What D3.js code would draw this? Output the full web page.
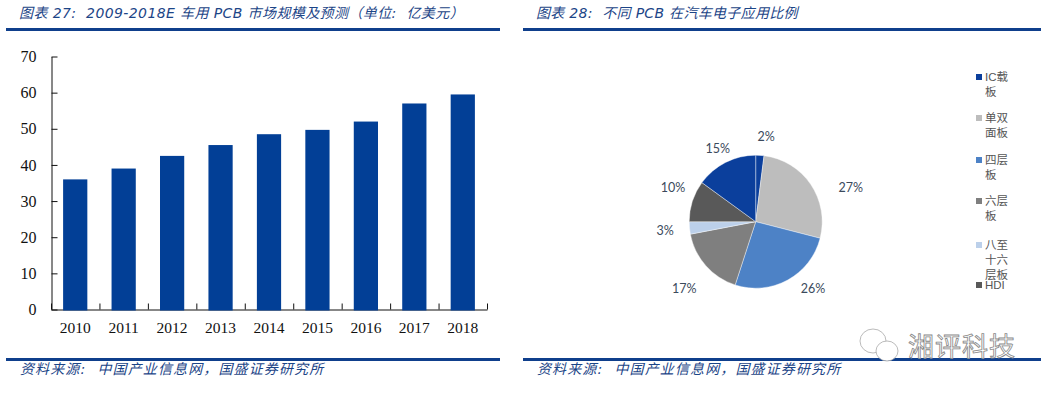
<!DOCTYPE html>
<html>
<head>
<meta charset="utf-8">
<script src="https://cdn.jsdelivr.net/npm/d3@7"></script>
<style>
body { margin: 0; background: #fff; }
svg { display: block; }
.head { font-family: "DejaVu Sans", "Noto Sans CJK SC"; font-style: italic; fill: #1c4587; white-space: pre; }
.tick text { font-family: "Liberation Serif", "Noto Sans CJK SC"; fill: #111; }
</style>
</head>
<body>
<script>
const years = ["2010","2011","2012","2013","2014","2015","2016","2017","2018"];
const market = [36, 39, 42.5, 45.5, 48.5, 49.7, 52, 57, 59.5];
const yTicks = [0, 10, 20, 30, 40, 50, 60, 70];

const pcbTypes = ["IC载板", "单双面板", "四层板", "六层板", "八至十六层板", "HDI"];
const pcbShare = [2, 27, 26, 17, 3, 10, 15];
const pieOrder = ["IC载板", "单双面板", "四层板", "六层板", "八至十六层板", "HDI", "IC载板"];
const legendLines = [["IC载", "板"], ["单双", "面板"], ["四层", "板"], ["六层", "板"], ["八至", "十六", "层板"], ["HDI"]];
const pcbColors = ["#0b3f9c", "#bdbdbd", "#4d82c6", "#7f7f7f", "#bcd0ea", "#595959"];

const title1 = "图表 27:  2009-2018E 车用 PCB 市场规模及预测（单位:  亿美元）";
const title2 = "图表 28:  不同 PCB 在汽车电子应用比例";
const source = "资料来源:  中国产业信息网，国盛证券研究所";
const blue = "#0f3f8c";

const svg = d3.select("body").append("svg").attr("width", 1050).attr("height", 393);

// headers, rules and sources of the two panels
svg.append("text").attr("class", "head").attr("x", 19).attr("y", 18).attr("font-size", 14).attr("letter-spacing", 0.4).text(title1);
svg.append("text").attr("class", "head").attr("x", 536).attr("y", 18).attr("font-size", 14).attr("letter-spacing", 0.3).text(title2);
svg.append("text").attr("class", "head").attr("x", 20).attr("y", 374).attr("font-size", 14).attr("letter-spacing", 1.12).text(source);
svg.append("text").attr("class", "head").attr("x", 537).attr("y", 374).attr("font-size", 14).attr("letter-spacing", 1.12).text(source);

[[6, 500], [523, 1041]].forEach(d => {
  svg.append("rect").attr("x", d[0]).attr("y", 28).attr("width", d[1] - d[0]).attr("height", 3).attr("fill", blue);
  svg.append("rect").attr("x", d[0]).attr("y", 358).attr("width", d[1] - d[0]).attr("height", 3).attr("fill", blue);
});

// bar chart
const scaleX = d3.scaleBand().domain(years).range([51, 487]).paddingInner(0.5).paddingOuter(0.25);
const scaleY = d3.scaleLinear().domain([0, 70]).range([309.5, 56.5]);
const scaleEdge = d3.scaleLinear().domain([0, years.length]).range([51, 487]);

const axisY = d3.axisLeft(scaleY).tickValues(yTicks).tickSizeInner(-6).tickSizeOuter(0).tickPadding(15);
const gy = svg.append("g").attr("transform", "translate(51.5, 0)").call(axisY);
gy.selectAll("text").attr("font-size", 16);
gy.selectAll("line, path").attr("stroke", "#111");

const axisEdge = d3.axisBottom(scaleEdge).tickValues(d3.range(years.length + 1)).tickSizeInner(-6).tickSizeOuter(0).tickFormat("");
svg.append("g").attr("transform", "translate(0, 309.5)").call(axisEdge)
  .selectAll("line, path").attr("stroke", "#111");

svg.append("g")
  .selectAll("rect")
  .data(market)
  .join("rect")
  .attr("x", (d, i) => scaleX(years[i]))
  .attr("y", d => scaleY(d))
  .attr("width", scaleX.bandwidth())
  .attr("height", d => scaleY(0) - scaleY(d) + 1)
  .attr("fill", "#023f96");

const axisX = d3.axisBottom(scaleX).tickSize(0).tickPadding(12);
const gx = svg.append("g").attr("transform", "translate(0, 309.5)").call(axisX);
gx.select(".domain").remove();
gx.selectAll("text").attr("font-size", 15.5);

// pie chart
const pieG = svg.append("g").attr("transform", "translate(755.7, 221.7)");
const arcs = d3.pie().sort(null)(pcbShare);
const slice = d3.arc().innerRadius(0).outerRadius(66.5);
const colorOf = d3.scaleOrdinal().domain(pcbTypes).range(pcbColors);

pieG.selectAll("path")
  .data(arcs)
  .join("path")
  .attr("d", slice)
  .attr("fill", (d, i) => colorOf(pieOrder[i]))
  .attr("stroke", "#fff")
  .attr("stroke-width", 0.4);

// label radius, then hand nudges off the radial spot
const labelR = 86;
const labelNudge = [[5, 1], [24, 14], [16, -8], [-7, 10], [-5, 1], [-1, -7], [1, 4]];
pieG.selectAll("text")
  .data(arcs)
  .join("text")
  .attr("transform", (d, i) => {
    const a = (d.startAngle + d.endAngle) / 2;
    const px = Math.sin(a) * labelR + labelNudge[i][0];
    const py = -Math.cos(a) * labelR + labelNudge[i][1];
    return `translate(${px}, ${py})`;
  })
  .attr("text-anchor", "middle")
  .attr("dy", "0.35em")
  .attr("font-family", "Lato, 'Open Sans'")
  .attr("font-size", 12.5)
  .attr("fill", "#3b4a5c")
  .text(d => d.data + "%");

// legend, wrapped as in the source
const legendTop = [77, 118, 160, 201, 245, 285];
const legend = svg.append("g").selectAll("g")
  .data(pcbTypes)
  .join("g")
  .attr("transform", (d, i) => `translate(976, ${legendTop[i]})`);

legend.append("rect")
  .attr("y", -3)
  .attr("width", 6)
  .attr("height", 6)
  .attr("fill", d => colorOf(d));

legend.selectAll("text")
  .data((d, i) => legendLines[i])
  .join("text")
  .attr("x", 9)
  .attr("y", (d, i) => i * 15 + 4)
  .attr("font-family", "'Liberation Sans', 'Noto Sans CJK SC'")
  .attr("font-size", 11.5)
  .attr("fill", "#555")
  .text(d => d);

// watermark over the rule of the right panel
const mark = svg.append("g").attr("fill", "#fff").attr("stroke", "#aaa").attr("stroke-width", 0.8);
mark.append("ellipse").attr("cx", 873).attr("cy", 341).attr("rx", 13).attr("ry", 12);
mark.append("ellipse").attr("cx", 887).attr("cy", 351).attr("rx", 11).attr("ry", 10);
mark.append("text")
  .attr("x", 908).attr("y", 356)
  .attr("font-family", "'Noto Sans CJK SC'")
  .attr("font-size", 26)
  .attr("letter-spacing", 1)
  .attr("stroke", "#888")
  .text("湘评科技");
</script>
</body>
</html>
